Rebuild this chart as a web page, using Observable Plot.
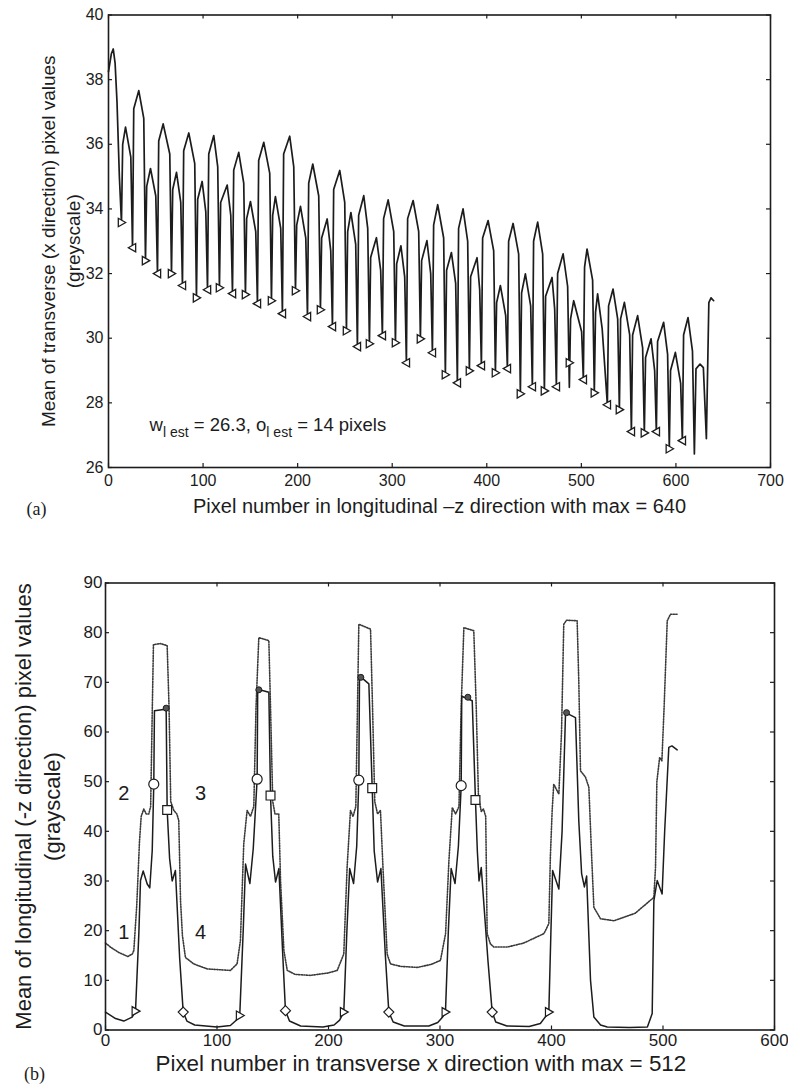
<!DOCTYPE html>
<html><head><meta charset="utf-8">
<script src="https://cdn.jsdelivr.net/npm/d3@7"></script>
<script src="https://cdn.jsdelivr.net/npm/@observablehq/plot@0.6"></script>
<style>
body{margin:0;background:#fff;}
#wrap{position:relative;width:788px;height:1092px;overflow:hidden;font-family:"Liberation Sans",Arial,sans-serif;}
#a{position:absolute;left:0;top:0;}
#b{position:absolute;left:0;top:540px;}
</style></head><body><div id="wrap"><div id="a"></div><div id="b"></div></div>
<script>
// ---------- Panel (a) data ----------
const topXTicks = [0,100,200,300,400,500,600,700];
const topYTicks = [26,28,30,32,34,36,38,40];
const topSignal = [
[0,38.25],[3,38.8],[5,38.95],[7,38.5],[9,37.3],[11.5,35.0],
[13.7,33.58],[15.0,36.0],[18.0,36.53],[23.6,35.6],
[25.4,32.80],[26.7,37.1],[32.0,37.66],[37.3,36.8],
[39.1,32.40],[40.4,34.7],[44.4,35.25],[50.0,34.4],
[51.8,32.00],[53.1,36.1],[57.8,36.63],[64.8,35.7],
[66.6,32.00],[67.9,34.6],[71.9,35.13],[76.4,34.2],
[78.2,31.63],[79.5,35.8],[84.9,36.35],[91.2,35.4],
[93.0,31.25],[94.3,34.3],[99.0,34.85],[102.9,33.9],
[104.7,31.50],[106.0,35.7],[111.3,36.27],[115.5,35.3],
[117.3,31.56],[118.6,34.2],[125.5,34.74],[129.3,33.8],
[131.1,31.38],[132.4,35.2],[137.7,35.75],[143.0,34.8],
[144.8,31.35],[146.1,33.7],[150.1,34.23],[155.7,33.3],
[157.5,31.07],[158.8,35.5],[164.2,36.06],[170.5,35.1],
[172.3,31.16],[173.6,33.8],[176.5,34.38],[182.1,33.4],
[183.9,30.76],[185.2,35.7],[191.6,36.25],[195.9,35.3],
[197.7,31.47],[199.0,33.5],[203.0,34.08],[208.6,33.1],
[210.4,30.67],[211.7,34.8],[216.0,35.39],[222.3,34.4],
[224.1,30.88],[225.4,33.1],[231.2,33.69],[235.0,32.7],
[236.8,30.36],[238.1,34.6],[244.5,35.19],[249.8,34.2],
[251.6,30.23],[252.9,33.3],[256.3,33.89],[261.4,32.9],
[263.2,29.74],[264.5,33.8],[269.9,34.41],[274.1,33.4],
[275.9,29.83],[277.2,32.5],[283.3,33.11],[287.8,32.1],
[289.6,30.08],[290.9,33.7],[295.7,34.28],[301.6,33.3],
[303.4,29.86],[304.7,32.3],[309.2,32.86],[313.2,31.9],
[315.0,29.24],[316.3,33.7],[322.1,34.26],[328.0,33.3],
[329.8,29.98],[331.1,32.4],[336.7,33.02],[340.7,32.0],
[342.5,29.55],[343.8,33.5],[348.1,34.13],[354.4,33.1],
[356.2,28.87],[357.5,32.1],[362.6,32.65],[367.1,31.7],
[368.9,28.62],[370.2,33.4],[374.9,34.00],[379.8,33.0],
[381.6,28.99],[382.9,31.9],[389.7,32.49],[392.5,31.5],
[394.3,29.15],[395.6,33.1],[401.4,33.64],[407.3,32.7],
[409.1,28.93],[410.4,31.1],[414.4,31.63],[420.0,30.7],
[421.8,29.06],[423.1,33.0],[427.8,33.55],[433.7,32.6],
[435.5,28.28],[436.8,31.4],[440.8,31.99],[446.4,31.0],
[448.2,28.50],[449.5,33.0],[453.8,33.59],[459.1,32.6],
[460.9,28.37],[462.2,31.3],[469.0,31.88],[471.8,30.9],
[473.6,28.50],[474.9,32.0],[480.7,32.61],[485.5,31.6],
[487.3,28.48],[488.6,30.6],[491.9,31.16],[500.3,30.2],
[502.1,28.72],[503.4,32.2],[506.0,32.76],[511.9,31.8],
[513.7,28.31],[515.0,30.8],[517.2,31.37],[522.0,30.3],
[527.5,27.94],[528.8,31.0],[533.5,31.52],[538.4,30.6],
[540.2,27.79],[541.5,30.6],[545.5,31.11],[551.1,30.1],
[552.9,27.11],[554.2,30.1],[559.5,30.70],[564.8,29.7],
[566.6,27.07],[567.9,29.4],[573.7,29.98],[577.5,29.0],
[579.3,27.11],[580.6,29.9],[587.0,30.49],[591.2,29.5],
[593.0,26.58],[594.3,29.0],[599.4,29.56],[605.0,28.6],
[606.8,26.83],[608.1,30.1],[612.8,30.64],[617.5,29.6],
[619.5,26.42],[621.2,29.05],[625.5,29.2],[629.0,29.09],
[632.2,26.89],[634.8,31.1],[637.1,31.25],[639.9,31.16]
];
// edge markers: [x, y, direction]
const topEdges = [
[13.7,33.58,"r"],[25.4,32.80,"l"],[39.1,32.40,"r"],[51.8,32.00,"l"],[66.6,32.00,"r"],
[78.2,31.63,"l"],[93.0,31.25,"r"],[104.7,31.50,"l"],[117.3,31.56,"r"],[131.1,31.38,"l"],
[144.8,31.35,"r"],[157.5,31.07,"l"],[172.3,31.16,"r"],[183.9,30.76,"l"],[197.7,31.47,"r"],
[210.4,30.67,"l"],[224.1,30.88,"r"],[236.8,30.36,"l"],[251.6,30.23,"r"],[263.2,29.74,"l"],
[275.9,29.83,"r"],[289.6,30.08,"l"],[303.4,29.86,"r"],[315.0,29.24,"l"],[329.8,29.98,"r"],
[342.5,29.55,"l"],[356.2,28.87,"r"],[368.9,28.62,"l"],[381.6,28.99,"r"],[394.3,29.15,"l"],
[409.1,28.93,"r"],[421.8,29.06,"l"],[435.5,28.28,"r"],[448.2,28.50,"l"],[460.9,28.37,"r"],
[473.6,28.50,"l"],[487.3,29.24,"r"],[502.1,28.72,"l"],[513.7,28.31,"r"],[527.5,27.94,"l"],
[540.2,27.79,"r"],[552.9,27.11,"l"],[566.6,27.07,"r"],[579.3,27.11,"l"],[593.0,26.58,"r"],
[606.8,26.83,"l"]
];
const topXLabel = "Pixel number in longitudinal \u2013z direction with max = 640";
const topYLabel1 = "Mean of transverse (x direction) pixel values";
const topYLabel2 = "(greyscale)";
const topAnnot = {x: 44, y: 27.1, parts: [["w",0],["l est",1],[" = 26.3, o",0],["l est",1],[" = 14 pixels",0]]};

// ---------- Panel (b) data ----------
const botXTicks = [0,100,200,300,400,500,600];
const botYTicks = [0,10,20,30,40,50,60,70,80,90];
const botSolid = [
[0,3.6],[9,2.3],[16.4,1.8],[23.9,2.6],[26.9,3.8],[29.9,19.4],[31.4,30.1],[33.8,32.0],[37.4,29.4],[39.7,28.6],[41.9,36.1],[43.3,49.5],[43.9,64.3],[53.8,64.6],[54.4,64.8],[55.3,44.3],[57.5,34.5],[59.8,30.0],[62.7,32.1],[66.5,14.5],[69.7,3.6],[73,1.8],[80,1.0],[100,0.6],[112,0.9],[117,1.9],[120.4,2.9],
[123.5,20],[125.6,33.4],[129.5,29.5],[132.5,36.5],[136,50.5],[136.5,68.6],[146.5,68],[148,47.2],[150,35],[152.5,29.8],[155.5,32.5],[159,15],[161.4,3.9],[165,1.8],[175,0.8],[195,0.6],[205,1.0],[210,2.0],[213.7,3.6],
[216.5,20],[219,32.5],[222.5,29.5],[225.3,37],[227.2,50.3],[227.8,71.3],[236.2,69.7],[239.2,48.7],[241,36],[244,29.8],[247,32.5],[251,15],[254.1,3.6],[258,1.6],[268,0.8],[290,0.8],[298,1.5],[302,2.5],[304.9,3.6],
[307.5,20],[310,32.5],[313.5,29.5],[316.5,37],[319,49.2],[319.5,67.2],[328.9,66.3],[331.8,46.3],[333.5,36],[335,30],[337,32.7],[343,14],[346.8,3.6],[350,1.6],[360,0.8],[380,0.7],[390,1.3],[394,2.5],[397.6,3.6],
[399.5,20],[401,32.1],[406.6,28.4],[409.5,40],[412.6,63.9],[421.5,62.9],[424.5,42],[427,31.5],[429.5,28.8],[431.5,31],[435,10],[438,2.6],[444,1],[450,0.6],[470,0.5],[486,0.6],[490.3,3.3],[491.8,26],[494.8,30.1],[499.2,27.4],[501.5,40],[505.2,56.9],[508,57.2],[512.7,56.4]
];
const botDotted = [
[0,17.5],[5,16.6],[12,15.6],[20,14.8],[24,15.3],[25.4,16],[28,25],[30.5,38],[32,43],[34.3,44.5],[36.5,43.5],[38.8,43.5],[40.5,45],[42,65],[43,77.6],[49.3,77.8],[55.3,77.4],[57,65],[58.5,46],[61.3,44.2],[64,43.5],[65.7,42.2],[67.3,26],[69,19],[71.7,14.6],[79.2,13.3],[91.2,12.3],[112,12],[118,13.3],[121,18],[124,37.5],[127,44.2],
[130,43],[133,45],[135,65],[137.5,79.0],[146.5,78.4],[148,65],[150,46],[152,43.5],[155.4,43.5],[157,30],[160,16],[163,12],[170,11.2],[183.9,11],[200,11.5],[207.8,12],[213.7,15.3],[216.7,32.8],[219.7,44.2],
[222,43],[224.5,45],[226,65],[227.2,81.7],[237.7,80.7],[239.5,65],[241.5,46],[244,43.5],[246.6,44.2],[249,32],[252.6,15.3],[255.6,13.3],[265,12.8],[279.6,12.6],[292,13.2],[300.4,14],[305,19.4],[308,34.1],[311,44.8],
[314,43.5],[317,45],[319,65],[321.4,81],[330.3,80.4],[332.5,65],[334.5,47],[337,44],[339,44.5],[341,43],[342.3,19.4],[345.3,17.3],[348.3,16.7],[360.3,16.7],[375,17.5],[393.2,19.4],[397.6,21.4],[399,35],[400.6,44.2],
[402,49.5],[406.6,47.5],[409,60],[411,81.7],[413.5,82.5],[423,82.4],[424.5,70],[426,52.2],[430.5,50.9],[433.5,48.9],[436,35],[438,24.7],[444,22.4],[456,22],[475,23.5],[491.8,26.7],[493.3,32.8],[494.5,50],[497,54.9],[499,54.2],[501,65],[503.8,82.4],[506.7,83.7],[512.7,83.7]
];
const botCircles = [[43.3,49.5],[136,50.5],[227.2,50.3],[319,49.2]];
const botSquares = [[55.3,44.3],[148,47.2],[239.2,48.7],[331.8,46.3]];
const botTriangles = [[26.9,3.8],[120.4,2.9],[213.7,3.6],[304.9,3.6],[397.6,3.6]];
const botDiamonds = [[69.7,3.6],[161.4,3.9],[254.1,3.6],[346.8,3.6]];
const botPeaks = [[54.4,64.8],[137.5,68.5],[229,71],[325,67],[413.5,63.9]];
const botRegionLabels = [["1",16.4,19.7],["2",16.4,47.5],["3",85.2,47.5],["4",85.2,19.7]];
const botXLabel = "Pixel number in transverse x direction with max = 512";
const botYLabel1 = "Mean of longitudinal (-z direction) pixel values";
const botYLabel2 = "(grayscale)";

// ---------- custom symbols ----------
const triRight = {draw(ctx, size){const r=Math.sqrt(size/Math.PI);ctx.moveTo(r,0);ctx.lineTo(-r*0.75,-r);ctx.lineTo(-r*0.75,r);ctx.closePath();}};
const triLeft = {draw(ctx, size){const r=Math.sqrt(size/Math.PI);ctx.moveTo(-r,0);ctx.lineTo(r*0.75,-r);ctx.lineTo(r*0.75,r);ctx.closePath();}};

const INK = "#1c1c1c";
const SANS = "Liberation Sans, Arial, sans-serif";
const SERIF = "Liberation Serif, Times New Roman, serif";

function boxTicks(xt, yt, fw, fh, len) {
  return [
    Plot.tickX(xt, {x: d => d, insetTop: fh - len, stroke: INK, strokeWidth: 1.2}),
    Plot.tickX(xt, {x: d => d, insetBottom: fh - len, stroke: INK, strokeWidth: 1.2}),
    Plot.tickY(yt, {y: d => d, insetRight: fw - len, stroke: INK, strokeWidth: 1.2}),
    Plot.tickY(yt, {y: d => d, insetLeft: fw - len, stroke: INK, strokeWidth: 1.2})
  ];
}

// ---------- Panel (a) ----------
const A = {w: 788, h: 540, mt: 14.5, mb: 73, ml: 108, mr: 18};
const aFW = A.w - A.ml - A.mr, aFH = A.h - A.mt - A.mb;
const chartA = Plot.plot({
  width: A.w, height: A.h, marginTop: A.mt, marginBottom: A.mb, marginLeft: A.ml, marginRight: A.mr,
  style: {fontFamily: SANS, fontSize: "16px", color: INK, background: "white", overflow: "visible"},
  x: {domain: [0, 700], ticks: topXTicks, tickSize: 0, tickPadding: 7, label: null},
  y: {domain: [26, 40], ticks: topYTicks, tickSize: 0, tickPadding: 5, label: null},
  marks: [
    ...boxTicks(topXTicks, topYTicks, aFW, aFH, 4),
    Plot.line(topSignal, {x: d => d[0], y: d => d[1], stroke: INK, strokeWidth: 1.7, strokeLinejoin: "round"}),
    Plot.dot(topEdges.filter(d => d[2] === "r"), {x: d => d[0], y: d => d[1], symbol: triRight, r: 4.2, stroke: INK, strokeWidth: 1.3, fill: "white"}),
    Plot.dot(topEdges.filter(d => d[2] === "l"), {x: d => d[0], y: d => d[1], symbol: triLeft, r: 4.2, stroke: INK, strokeWidth: 1.3, fill: "white"}),
    Plot.frame({stroke: INK, strokeWidth: 1.6}),
    Plot.text([topXLabel], {text: d => d, frameAnchor: "bottom", dy: 45, fontSize: 20, textAnchor: "middle", fill: INK}),
    Plot.text([topYLabel1], {text: d => d, frameAnchor: "left", dx: -60, rotate: -90, fontSize: 19, textAnchor: "middle", fill: INK}),
    Plot.text([topYLabel2], {text: d => d, frameAnchor: "left", dx: -35, rotate: -90, fontSize: 19, textAnchor: "middle", fill: INK}),
    Plot.text(["(a)"], {text: d => d, frameAnchor: "bottom-left", dx: -72, dy: 47, fontSize: 18, textAnchor: "middle", fontFamily: SERIF, fill: INK})
  ]
});
document.getElementById("a").appendChild(chartA);
{
  const sx = chartA.scale("x"), sy = chartA.scale("y");
  const t = d3.select(chartA).append("text")
    .attr("x", sx.apply(topAnnot.x)).attr("y", sy.apply(topAnnot.y))
    .attr("text-anchor", "start")
    .attr("font-family", SANS).attr("font-size", 18.5).attr("fill", INK);
  let sub = 0;
  for (const [s, isSub] of topAnnot.parts) {
    const ts = t.append("tspan").text(s);
    if (isSub && !sub) { ts.attr("dy", 6).attr("font-size", 14); sub = 1; }
    else if (!isSub && sub) { ts.attr("dy", -6); sub = 0; }
    else if (isSub) ts.attr("font-size", 14);
  }
}

// ---------- Panel (b) ----------
const B = {w: 788, h: 552, mt: 42.5, mb: 62.5, ml: 105, mr: 14};
const bFW = B.w - B.ml - B.mr, bFH = B.h - B.mt - B.mb;
const pt = {x: d => d[0], y: d => d[1]};
const chartB = Plot.plot({
  width: B.w, height: B.h, marginTop: B.mt, marginBottom: B.mb, marginLeft: B.ml, marginRight: B.mr,
  style: {fontFamily: SANS, fontSize: "17px", color: INK, background: "white", overflow: "visible"},
  x: {domain: [0, 600], ticks: botXTicks, tickSize: 0, tickPadding: 4, label: null},
  y: {domain: [0, 90], ticks: botYTicks, tickSize: 0, tickPadding: 3, label: null},
  marks: [
    ...boxTicks(botXTicks, botYTicks, bFW, bFH, 4),
    Plot.line(botDotted, {...pt, stroke: "#3a3a3a", strokeWidth: 1.6, strokeDasharray: "1.2,1.4"}),
    Plot.line(botSolid, {...pt, stroke: INK, strokeWidth: 1.5, strokeLinejoin: "round"}),
    Plot.dot(botCircles, {...pt, symbol: "circle", r: 5, stroke: INK, strokeWidth: 1.2, fill: "white"}),
    Plot.dot(botSquares, {...pt, symbol: "square", r: 5, stroke: INK, strokeWidth: 1.2, fill: "white"}),
    Plot.dot(botTriangles, {...pt, symbol: triRight, r: 4.5, stroke: INK, strokeWidth: 1.2, fill: "white"}),
    Plot.dot(botDiamonds, {...pt, symbol: "diamond2", r: 4.5, stroke: INK, strokeWidth: 1.2, fill: "white"}),
    Plot.dot(botPeaks, {...pt, r: 3, stroke: INK, strokeWidth: 1, fill: "#555"}),
    Plot.text(botRegionLabels, {x: d => d[1], y: d => d[2], text: d => d[0], fontSize: 20, fill: INK}),
    Plot.frame({stroke: INK, strokeWidth: 1.6}),
    Plot.text([botXLabel], {text: d => d, frameAnchor: "bottom-left", dx: 50, dy: 41, fontSize: 22.4, textAnchor: "start", fill: INK}),
    Plot.text([botYLabel1], {text: d => d, frameAnchor: "left", dx: -82, rotate: -90, fontSize: 22, textAnchor: "middle", fill: INK}),
    Plot.text([botYLabel2], {text: d => d, frameAnchor: "left", dx: -53, rotate: -90, fontSize: 22, textAnchor: "middle", fill: INK}),
    Plot.text(["(b)"], {text: d => d, frameAnchor: "bottom-left", dx: -71, dy: 50, fontSize: 18, textAnchor: "middle", fontFamily: SERIF, fill: INK})
  ]
});
document.getElementById("b").appendChild(chartB);
</script>
</body></html>
